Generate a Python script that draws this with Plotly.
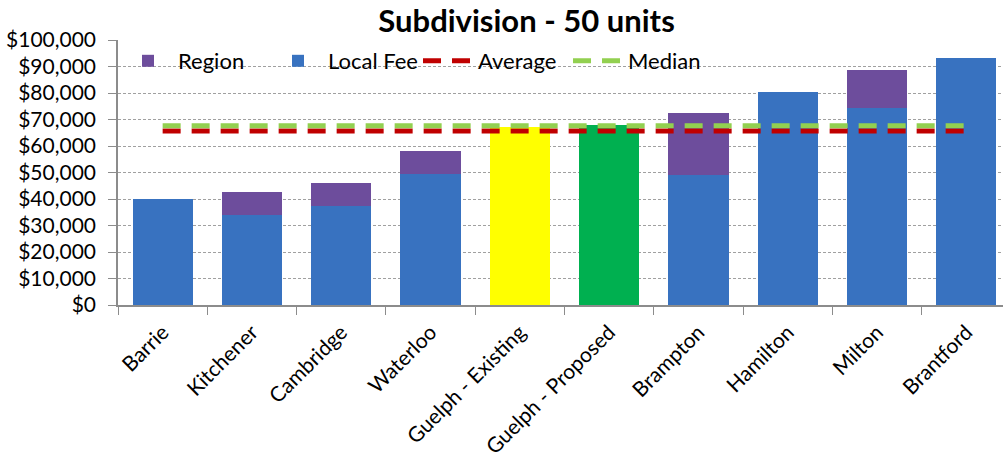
import plotly.graph_objects as go

categories = ["Barrie", "Kitchener", "Cambridge", "Waterloo", "Guelph - Existing",
              "Guelph - Proposed", "Brampton", "Hamilton", "Milton", "Brantford"]
local_fee = [40000, 34000, 37500, 49400, 67300, 67900, 49000, 80400, 74300, 93200]
region = [0, 8600, 8600, 8700, 0, 0, 23500, 0, 14400, 0]
average = 65700
median = 67600
y_ticks = list(range(0, 100001, 10000))
y_tick_labels = ["${:,}".format(v) for v in y_ticks]

local_colors = ["#3872c0"] * len(categories)
local_colors[4] = "#ffff00"
local_colors[5] = "#00b050"

FONT = "Lato, Calibri, Carlito, sans-serif"

fig = go.Figure()
fig.add_trace(go.Bar(x=categories, y=local_fee, name="Local Fee",
                     marker=dict(color=local_colors, line=dict(width=0)),
                     legendrank=2))
fig.add_trace(go.Bar(x=categories, y=region, name="Region",
                     marker=dict(color="#6d4d9c", line=dict(width=0)),
                     legendrank=1))
fig.add_trace(go.Scatter(x=categories, y=[average] * len(categories), name="Average",
                         mode="lines", line=dict(color="#c00000", width=5, dash="18px,11px"),
                         legendrank=3))
fig.add_trace(go.Scatter(x=categories, y=[median] * len(categories), name="Median",
                         mode="lines", line=dict(color="#92d050", width=5, dash="18px,11px"),
                         legendrank=4))

fig.update_layout(
    width=1003, height=462,
    margin=dict(l=118, r=0, t=40, b=157, autoexpand=False),
    barmode="stack",
    bargap=0.326,
    paper_bgcolor="white",
    plot_bgcolor="white",
    font=dict(family=FONT, size=21, color="#000000"),
    title=dict(text="<b>Subdivision - 50 units</b>", x=0.525, xanchor="center",
               y=0.955, yanchor="middle", font=dict(family=FONT, size=31, color="#000")),
    legend=dict(orientation="h", x=0.0, xanchor="left", y=1.0, yanchor="top",
                traceorder="normal",
                font=dict(family=FONT, size=22), bgcolor="rgba(255,255,255,0)",
                itemwidth=50, entrywidth=85, entrywidthmode="pixels", tracegroupgap=0),
    showlegend=True,
)
fig.update_xaxes(
    range=[-0.5, 9.41], showgrid=False, showline=True, linecolor="#8c8c8c", linewidth=1.5,
    ticks="outside", tickson="boundaries", ticklen=8, tickcolor="#8c8c8c",
    tickangle=-45, tickfont=dict(family=FONT, size=21), ticklabelstandoff=5,
    automargin=False,
)
fig.update_yaxes(
    range=[0, 100000], tickvals=y_ticks, ticktext=y_tick_labels,
    showgrid=True, gridcolor="#a0a0a0", griddash="3px,2px", gridwidth=1,
    showline=True, linecolor="#8c8c8c", linewidth=1.5,
    ticks="outside", ticklen=8, tickcolor="#8c8c8c", ticklabelstandoff=8,
    tickfont=dict(family=FONT, size=21), zeroline=False, automargin=False,
)

fig.write_html("out.html")
